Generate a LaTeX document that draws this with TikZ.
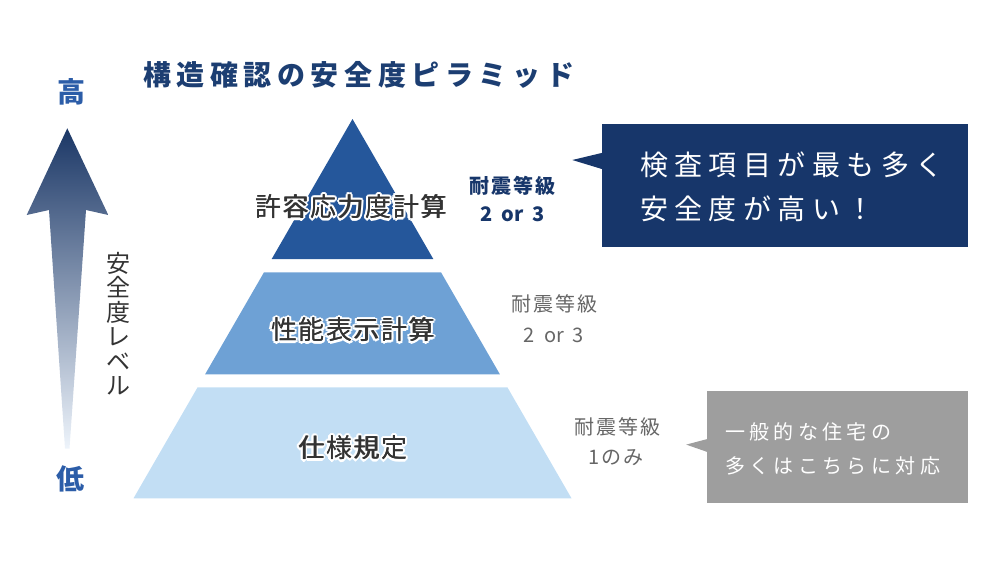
\documentclass[tikz,border=0pt]{standalone}
\usepackage{fontspec}
\setmainfont{Noto Sans CJK JP}
\usetikzlibrary{calc}
\definecolor{navy}{HTML}{17366A}
\definecolor{pyrtop}{HTML}{25579B}
\definecolor{pyrmid}{HTML}{6EA1D5}
\definecolor{pyrbot}{HTML}{C2DEF4}
\definecolor{hilo}{HTML}{2C5DA8}
\definecolor{txtdark}{HTML}{333333}
\definecolor{txtgray}{HTML}{666666}
\definecolor{boxgray}{HTML}{9E9E9E}
\definecolor{titlec}{HTML}{1C3E72}
\definecolor{arrtop}{HTML}{1B3766}
\definecolor{arrbot}{HTML}{EEF4FB}
\newcommand\halolabel[3]{%
  \foreach \a in {0,30,...,330}{\node[pyrlabel,text=white] at ($(#2)+(\a:2.2)$) {#3};}
  \node[pyrlabel] at ($(#2)+(0.35,0)$) {#3};
  \node[pyrlabel] (#1) at (#2) {#3};}
\begin{document}
\begin{tikzpicture}[x=1pt,y=-1pt,
  every node/.style={inner sep=0pt,outer sep=0pt},
  pyrlabel/.style={font=\fontsize{26}{26}\selectfont\addfontfeatures{LetterSpace=6},text=txtdark},
  gradelabel/.style={font=\fontsize{20}{20}\selectfont\addfontfeatures{LetterSpace=10}},
  gradenum/.style={font=\fontsize{20}{20}\selectfont},
  boxtext/.style={font=\fontsize{28}{28}\selectfont\addfontfeatures{LetterSpace=23},text=white,anchor=west},
  graytext/.style={font=\fontsize{20}{20}\selectfont\addfontfeatures{LetterSpace=22},text=white,anchor=west},
  hilotext/.style={font=\bfseries\fontsize{28}{28}\selectfont,text=hilo}]
\useasboundingbox (0,0) rectangle (992,560);

% title
\node[font=\bfseries\fontsize{28}{28}\selectfont\addfontfeatures{LetterSpace=20},text=titlec,anchor=west] (title) at (143,75) {構造確認の安全度ピラミッド};

% gradient arrow
\shade[top color=arrtop,bottom color=arrbot]
  (67.3,128.3) -- (108.3,215) -- (86,210) -- (69.5,448.5) -- (65,448.5) -- (49,210) -- (26.7,215) -- cycle;
\node[hilotext] (hi) at (71,92) {高};
\node[hilotext] (lo) at (70,479) {低};
\node[font=\fontsize{24}{24.5}\selectfont,text=txtdark,align=center] (level) at (118,323.5) {安\\全\\度\\レ\\ベ\\ル};

% pyramid layers
\fill[pyrtop] (352.5,119) -- (433.3,259) -- (271.7,259) -- cycle;
\fill[pyrmid] (264,272.3) -- (441,272.3) -- (499.9,374.3) -- (205.1,374.3) -- cycle;
\fill[pyrbot] (197.6,387.3) -- (507.4,387.3) -- (571.5,498.3) -- (133.5,498.3) -- cycle;

\halolabel{lab1}{351,207}{許容応力度計算}
\halolabel{lab2}{353,330}{性能表示計算}
\halolabel{lab3}{353,448}{仕様規定}

% grade labels
\node[gradelabel,font=\bfseries\fontsize{20}{20}\selectfont\addfontfeatures{LetterSpace=10},text=navy] (g1a) at (512,186) {耐震等級};
\node[gradenum,font=\bfseries\fontsize{20}{20}\selectfont,text=navy] (g1b) at (512.5,214.5) {2\hspace{9pt}or\hspace{9pt}3};
\node[gradelabel,text=txtgray] (g2a) at (554,304) {耐震等級};
\node[gradenum,text=txtgray] (g2b) at (554,335) {2\hspace{9pt}or\hspace{9pt}3};
\node[gradelabel,text=txtgray] (g3a) at (617,427) {耐震等級};
\node[gradelabel,text=txtgray] (g3b) at (616,458) {1のみ};

% navy callout
\node[fill=navy,minimum width=366,minimum height=122.4] (hibox) at (785.3,185.5) {};
\fill[navy] ($(hibox.west)+(0.5,-32.8)$) -- (572.3,160) -- ($(hibox.west)+(0.5,-16.2)$) -- cycle;
\node[boxtext] (hib1) at (640,165) {検査項目が最も多く};
\node[boxtext] (hib2) at (640,208.5) {安全度が高い！};

% gray callout
\node[fill=boxgray,minimum width=260.7,minimum height=112.1] (lobox) at (837.25,447) {};
\fill[boxgray] ($(lobox.west)+(0.5,-8)$) -- (686.2,444.6) -- ($(lobox.west)+(0.5,5)$) -- cycle;
\node[graytext] (lob1) at (725,431.5) {一般的な住宅の};
\node[graytext] (lob2) at (725,466) {多くはこちらに対応};
\end{tikzpicture}
\end{document}
